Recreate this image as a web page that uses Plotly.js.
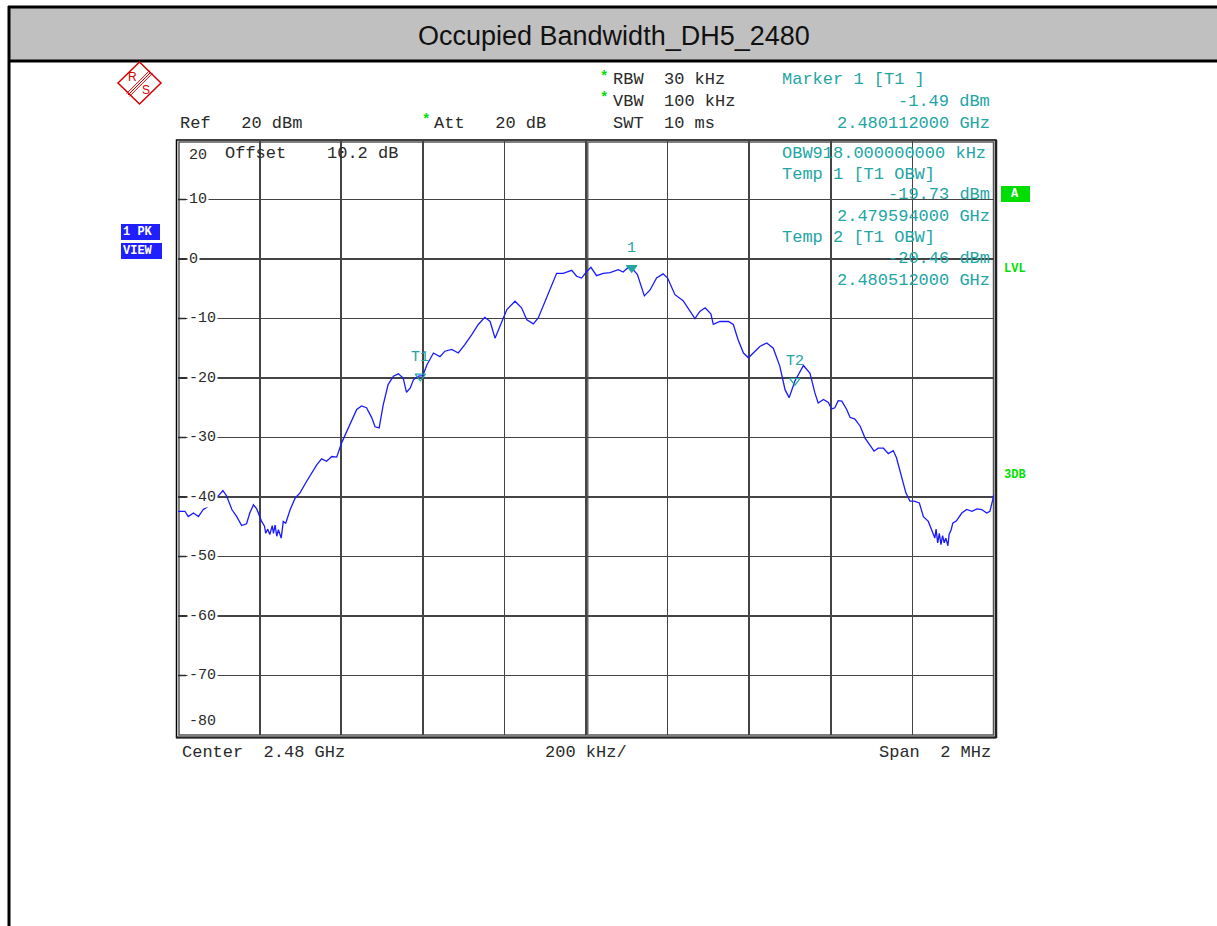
<!DOCTYPE html>
<html>
<head>
<meta charset="utf-8">
<script src="https://cdn.plot.ly/plotly-3.0.1.min.js"></script>
<style>
html,body{margin:0;padding:0;background:#fff;}
#chart{width:1217px;height:926px;}
</style>
</head>
<body>
<div id="chart"></div>
<script>
// ---- data (frequency offset from 2.48 GHz in kHz, level in dBm) ----
const freqOffsetKHz = [
 -1000,-983,-975,-962,-950,-938,-926,-913,-901,-890,-881,-868,-856,-844,-832,-824,-815,-807,
 -795,-788,-785,-780,-775,-769,-766,-762,-758,-754,-747,-742,-736,-729,-725,
 -713,-701,-685,-672,-660,-648,-636,-623,-611,-599,-587,-574,-562,-550,-538,-525,-517,-507,-497,-485,
 -472,-460,-448,-440,-431,-423,-411,-400,-390,-374,-358,-346,-329,-313,-297,-280,-264,-248,-235,-223,
 -211,-194,-174,-158,-145,-129,-117,-96,-72,-56,-35,-23,-11,2,12,26,42,59,79,91,
 102,112,126,143,157,173,189,200,218,238,255,267,279,292,306,312,328,349,361,373,
 386,398,410,426,443,459,475,488,498,512,533,549,561,569,582,594,602,610,618,627,
 639,647,659,672,684,696,706,716,729,741,753,761,774,784,794,804,817,827,839,847,
 855,858,862,866,870,874,878,882,887,890,895,899,908,921,933,946,958,970,982,990,1000
];
const levelDbm = [
 -42.4,-42.4,-43.3,-42.7,-43.3,-42.1,-41.6,-40.2,-39.8,-38.9,-39.8,-42.1,-43.3,-44.8,-44.5,-42.7,-41.3,-42.0,
 -44.1,-44.9,-46.1,-45.4,-46.3,-44.8,-46.1,-44.7,-46.6,-45.5,-46.9,-44.1,-44.4,-42.7,-42.1,
 -40.2,-39.3,-37.4,-36.0,-34.6,-33.6,-34.0,-33.2,-33.3,-30.9,-29.0,-27.0,-25.3,-24.7,-25.0,-26.7,-28.2,-28.4,-24.5,-21.1,
 -19.7,-19.3,-20.0,-22.4,-21.7,-20.3,-19.7,-19.6,-17.8,-15.8,-16.4,-15.5,-15.2,-15.8,-14.4,-12.7,-11.0,-9.8,-10.5,-13.3,
 -11.3,-8.5,-7.1,-8.2,-10.2,-10.9,-9.9,-6.3,-2.4,-2.4,-1.9,-2.9,-3.2,-2.1,-1.4,-2.8,-2.4,-2.3,-1.8,-2.2,
 -1.5,-1.49,-2.6,-6.2,-5.2,-3.2,-2.5,-3.2,-6.0,-7.0,-8.8,-10.0,-8.8,-8.2,-9.2,-11.0,-10.5,-10.5,-11.0,-13.6,
 -15.8,-16.6,-15.8,-14.7,-14.1,-15.0,-18.0,-22.0,-23.3,-20.5,-17.9,-19.2,-22.5,-24.2,-23.6,-24.1,-25.2,-25.0,-23.8,-23.9,
 -25.3,-26.6,-26.9,-28.1,-30.1,-31.2,-32.3,-31.8,-31.8,-32.7,-32.2,-33.4,-36.5,-39.3,-40.7,-40.7,-41.0,-43.3,-44.1,-45.5,
 -46.9,-45.4,-47.7,-46.1,-48.0,-46.5,-47.7,-46.9,-48.2,-46.3,-45.5,-44.4,-44.0,-42.7,-42.1,-42.4,-42.0,-42.1,-42.7,-42.4,-39.6
];
const markerFreqKHz = [112, -406, 512];
const markerLevel = [-1.49, -19.73, -20.46];
const markerLabels = ['1', 'T1', 'T2'];
const markerSymbols = ['triangle-down', 'triangle-down-open', 'triangle-down-open'];
const yTickValues = [20, 10, 0, -10, -20, -30, -40, -50, -60, -70, -80];
const yTickLabels = ['20', '10', '0', '-10', '-20', '-30', '-40', '-50', '-60', '-70', '-80'];

// ---- layout helpers (pixel -> paper) ----
const X0 = 178, X1 = 994, Y0 = 140, Y1 = 735;
const px = x => (x - X0) / (X1 - X0);
const py = y => (Y1 - y) / (Y1 - Y0);
const MONO = 'Liberation Mono, Courier New, monospace';
const TEAL = '#23a5a5';
const GREEN = '#00e000';
const DARK = '#2a2a2a';

const ann = [];
function txt(text, x, y, o) {
  o = o || {};
  ann.push({
    xref: 'paper', yref: 'paper', x: px(x), y: py(y), text: text,
    showarrow: false, xanchor: o.xa || 'left', yanchor: 'middle',
    font: {family: o.family || MONO, size: o.size || 17, color: o.color || DARK},
    bgcolor: o.bg || 'rgba(0,0,0,0)', borderpad: o.pad || 0
  });
}

// header / info texts
txt('Occupied Bandwidth_DH5_2480', 614, 36, {xa: 'center', family: 'Liberation Sans, Arial, sans-serif', size: 27, color: '#111'});
txt('<b>*</b>', 599, 77, {color: GREEN, size: 14});
txt('RBW  30 kHz', 612, 80);
txt('<b>*</b>', 599, 98, {color: GREEN, size: 14});
txt('VBW  100 kHz', 612, 101);
txt('SWT  10 ms', 612, 123);
txt('Ref   20 dBm', 179, 123);
txt('<b>*</b>', 421, 120, {color: GREEN, size: 14});
txt('Att   20 dB', 433, 123);
txt('Marker 1 [T1 ]', 781, 80, {color: TEAL});
txt('-1.49 dBm', 991, 101, {color: TEAL, xa: 'right'});
txt('2.480112000 GHz', 991, 123, {color: TEAL, xa: 'right'});
txt('OBW918.000000000 kHz', 781, 153, {color: TEAL});
txt('Temp 1 [T1 OBW]', 781, 174, {color: TEAL});
txt('-19.73 dBm', 991, 194, {color: TEAL, xa: 'right'});
txt('2.479594000 GHz', 991, 216, {color: TEAL, xa: 'right'});
txt('Temp 2 [T1 OBW]', 781, 237, {color: TEAL});
txt('-20.46 dBm', 991, 258, {color: TEAL, xa: 'right'});
txt('2.480512000 GHz', 991, 280, {color: TEAL, xa: 'right'});
txt('Offset    10.2 dB', 224, 153);
txt('Center  2.48 GHz', 181, 753);
txt('200 kHz/', 544, 753);
txt('Span  2 MHz', 992, 753, {xa: 'right'});
txt('<b>LVL</b>', 1003, 269, {color: GREEN, size: 12});
txt('<b>3DB</b>', 1003, 475, {color: GREEN, size: 12});
txt('<b>A</b>', 1015, 194, {color: '#fff', size: 12, xa: 'center'});
txt('<b>1 PK</b>', 122, 232, {color: '#fff', size: 12});
txt('<b>VIEW</b>', 122, 251, {color: '#fff', size: 12});
txt('R', 132, 77, {color: '#d40000', family: 'Liberation Sans, Arial, sans-serif', size: 12, xa: 'center'});
txt('S', 146, 90, {color: '#d40000', family: 'Liberation Sans, Arial, sans-serif', size: 12, xa: 'center'});

// y tick labels drawn inside the grid
yTickValues.forEach((v, i) => {
  const a = {
    xref: 'paper', yref: 'y', x: px(187), y: v, text: yTickLabels[i], showarrow: false,
    xanchor: 'left', yanchor: 'middle', font: {family: MONO, size: 15, color: DARK},
    bgcolor: '#ffffff', borderpad: 1
  };
  if (v === 20) { a.yanchor = 'top'; a.yshift = -5; a.bgcolor = 'rgba(0,0,0,0)'; }
  if (v === -80) { a.yanchor = 'bottom'; a.yshift = 3; a.bgcolor = 'rgba(0,0,0,0)'; }
  ann.push(a);
});

// marker labels
markerLabels.forEach((t, i) => {
  ann.push({xref: 'x', yref: 'y', x: markerFreqKHz[i], y: markerLevel[i], text: t, showarrow: false,
    yshift: 19, font: {family: MONO, size: 15, color: TEAL}, xanchor: 'center', yanchor: 'middle'});
});

const shapes = [];
function rectPx(x0, y0, x1, y1, fill, line, lw) {
  shapes.push({type: 'rect', xref: 'paper', yref: 'paper', x0: px(x0), x1: px(x1), y0: py(y0), y1: py(y1),
    fillcolor: fill || 'rgba(0,0,0,0)', line: {color: line || 'rgba(0,0,0,0)', width: lw || 0}, layer: 'below'});
}
function linePx(x0, y0, x1, y1, color, w, layer) {
  shapes.push({type: 'line', xref: 'paper', yref: 'paper', x0: px(x0), x1: px(x1), y0: py(y0), y1: py(y1),
    line: {color: color, width: w}, layer: layer || 'above'});
}
// header band and page frame
rectPx(10, 8, 1217, 60, '#c0c0c0');
linePx(8, 7, 1217, 7, '#000', 3);
linePx(9, 6, 9, 926, '#000', 3);
linePx(8, 61, 1217, 61, '#000', 3);
// plot frame (double)
rectPx(176.5, 140, 996, 737.5, null, '#000', 1.5);
rectPx(179, 142, 993.5, 735, null, '#555', 1.5);
linePx(996, 140, 996, 738, '#222', 2.5);
linePx(176, 737.5, 996, 737.5, '#222', 2);
// centre line
linePx(587, 142, 587, 735, '#666', 3, 'below');
// R&S logo
shapes.push({type: 'path', xref: 'paper', yref: 'paper',
  path: `M ${px(118)} ${py(83)} L ${px(139.5)} ${py(62)} L ${px(161)} ${py(83)} L ${px(139.5)} ${py(104)} Z`,
  line: {color: '#d40000', width: 1.5}});
[-2, 0, 2].forEach(d => linePx(151 + d * 0.7, 72 + d * 0.7, 128 + d * 0.7, 95 + d * 0.7, '#d40000', 1));
// boxes
rectPx(1001, 186, 1030, 202, '#00dd00');
rectPx(121, 224, 160, 240, '#1f1fff');
rectPx(121, 243, 162, 259, '#1f1fff');
// tick marks on the left
yTickValues.forEach(v => {
  if (v === 20 || v === -80) return;
  shapes.push({type: 'line', xref: 'paper', yref: 'y', x0: px(178), x1: px(186), y0: v, y1: v,
    line: {color: DARK, width: 1.5}});
});

const traces = [
  {x: freqOffsetKHz, y: levelDbm, type: 'scatter', mode: 'lines', line: {color: '#1a1aff', width: 1.3},
   hoverinfo: 'skip', showlegend: false},
  {x: markerFreqKHz, y: markerLevel, type: 'scatter', mode: 'markers',
   marker: {symbol: markerSymbols, size: 9, color: TEAL, line: {color: TEAL, width: 1.2}},
   hoverinfo: 'skip', showlegend: false}
];

const layout = {
  width: 1217, height: 926,
  margin: {l: X0, r: 1217 - X1, t: Y0, b: 926 - Y1, pad: 0},
  paper_bgcolor: '#fff', plot_bgcolor: '#fff',
  showlegend: false,
  xaxis: {range: [-1000, 1000], dtick: 200, tick0: -1000, showgrid: true, gridcolor: '#444', gridwidth: 1.8,
          showticklabels: false, ticks: '', zeroline: false, showline: false, fixedrange: true},
  yaxis: {range: [-80, 20], dtick: 10, tick0: -80, showgrid: true, gridcolor: '#444', gridwidth: 1.8,
          showticklabels: false, ticks: '', zeroline: false, showline: false, fixedrange: true},
  annotations: ann,
  shapes: shapes
};

Plotly.newPlot('chart', traces, layout, {displayModeBar: false, staticPlot: true});
</script>
</body>
</html>
